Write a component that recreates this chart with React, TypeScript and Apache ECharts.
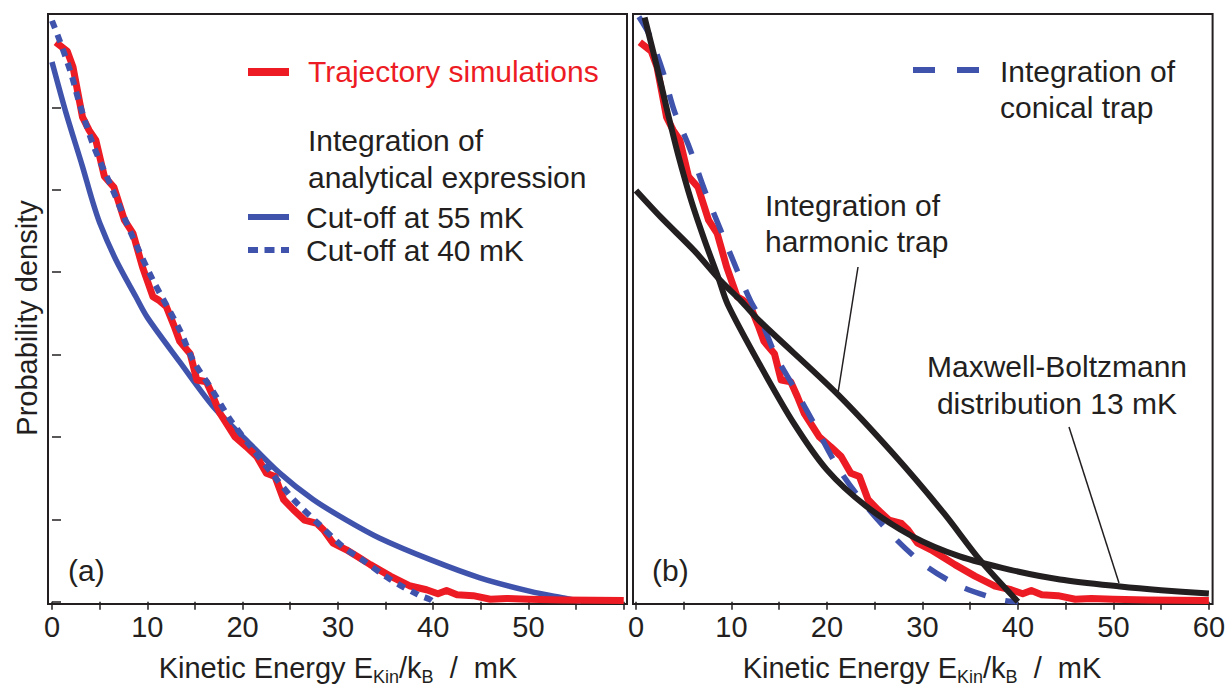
import React, { useEffect, useRef } from "react";
import * as echarts from "echarts";

// ---------- data ----------
const xTickValues = [0, 5, 10, 15, 20, 25, 30, 35, 40, 45, 50, 55, 60];
const xLabelsA = [0, 10, 20, 30, 40, 50];
const xLabelsB = [0, 10, 20, 30, 40, 50, 60];
const yTickValues = [0, 1, 2, 3, 4, 5, 6];

// trajectory simulations (red) – same in both panels
const trajectory: [number, number][] = [
  [0.4, 6.79], [1.6, 6.68], [2.2, 6.49], [3.2, 5.88], [3.9, 5.72], [4.6, 5.6],
  [5.5, 5.16], [6.5, 5.03], [7.6, 4.63], [8.5, 4.47], [9.5, 4.06], [10.6, 3.7],
  [11.2, 3.66], [12.0, 3.58], [12.8, 3.35], [13.4, 3.16], [14.5, 3.01], [15.2, 2.69],
  [16.2, 2.67], [16.9, 2.49], [17.6, 2.29], [19.2, 2.0], [20.4, 1.88], [21.5, 1.76],
  [22.5, 1.56], [23.4, 1.52], [24.3, 1.24], [25.3, 1.12], [26.5, 0.99], [27.8, 0.95],
  [28.5, 0.87], [29.5, 0.71], [30.9, 0.63], [32.3, 0.53], [33.4, 0.45], [35.5, 0.31],
  [37.6, 0.19], [39.3, 0.145], [40.5, 0.097], [41.4, 0.137], [42.5, 0.085], [44.2, 0.073],
  [46.0, 0.03], [47.7, 0.04], [50.0, 0.03], [53.6, 0.02], [60.0, 0.015],
];

// analytical expression, cut-off at 55 mK (blue solid)
const cutoff55: [number, number][] = [
  [0, 6.55], [1.5, 5.92], [3.2, 5.28], [4.2, 4.88], [5.0, 4.6], [6.7, 4.15],
  [8.8, 3.7], [10, 3.45], [13.4, 2.91], [16.9, 2.37], [20.4, 1.96], [23.9, 1.56],
  [27.4, 1.24], [30.9, 0.99], [34.4, 0.77], [39.7, 0.51], [44.9, 0.29], [50.2, 0.125],
  [53.7, 0.045], [55.5, 0.005],
];

// analytical expression, cut-off at 40 mK (blue dotted)
const cutoff40: [number, number][] = [
  [0, 7.05], [0.8, 6.81], [2.0, 6.41], [2.9, 6.04], [4.4, 5.52], [6.4, 4.99],
  [8.3, 4.47], [10.6, 3.9], [13.4, 3.3], [14.8, 2.93], [16.8, 2.57], [18.7, 2.21],
  [21, 1.86], [23.2, 1.54], [25.5, 1.22], [28.1, 0.93], [30.7, 0.65], [32.3, 0.53],
  [35.5, 0.27], [38.4, 0.085], [39.7, 0.025], [40, 0],
];

// integration of conical trap (blue dashed)
const conical: [number, number][] = [
  [0.3, 7.1], [1.4, 6.88], [2.8, 6.44], [4.0, 5.96], [5.6, 5.51], [7.2, 4.99],
  [8.9, 4.5], [10.6, 4.02], [12, 3.65], [13, 3.44], [14.7, 2.97], [16.5, 2.61],
  [18.6, 2.17], [21.3, 1.6], [24.1, 1.16], [27.3, 0.75], [30.4, 0.43], [33.9, 0.19],
  [37.4, 0.045], [39.1, 0.005], [40, 0],
];

// integration of harmonic trap (black)
const harmonic: [number, number][] = [
  [0, 4.99], [2.65, 4.66], [6.1, 4.26], [8.9, 3.89], [11, 3.65], [13, 3.4],
  [21, 2.53], [26.9, 1.8], [32.2, 1.08], [36, 0.51], [40, 0],
];

// Maxwell-Boltzmann distribution 13 mK (black)
const maxwell: [number, number][] = [
  [0.9, 7.09], [2.3, 6.44], [3.35, 5.92], [4.4, 5.43], [5.8, 4.86], [7.2, 4.38],
  [8.6, 3.94], [9.6, 3.61], [13, 2.87], [16.5, 2.17], [20, 1.6], [24.1, 1.16],
  [29, 0.79], [33.9, 0.55], [39.1, 0.39], [44.4, 0.27], [50.7, 0.185], [55, 0.14],
  [60, 0.1],
];

// ---------- styles ----------
const RED = "#ed1c24";
const BLUE = "#3f53ad";
const BLACK = "#231f20";
const FAMILY = '"Liberation Sans", Arial, Helvetica, sans-serif';
const FS = 29;

function xAxisFor(gridIndex: number, min: number, max: number, labels: number[]) {
  return {
    type: "value",
    gridIndex,
    min,
    max,
    axisLine: { show: false },
    splitLine: { show: false },
    axisTick: {
      show: true,
      inside: false,
      length: 8,
      customValues: xTickValues,
      lineStyle: { color: BLACK, width: 1.5 },
    },
    axisLabel: {
      show: true,
      customValues: labels,
      margin: 8,
      color: BLACK,
      fontSize: FS,
      fontFamily: FAMILY,
    },
  };
}

function yAxisFor(gridIndex: number, ticks: boolean) {
  return {
    type: "value",
    gridIndex,
    min: -0.028,
    max: 7.132,
    axisLine: { show: false },
    splitLine: { show: false },
    axisLabel: { show: false },
    axisTick: {
      show: ticks,
      inside: true,
      length: 9,
      customValues: yTickValues,
      lineStyle: { color: BLACK, width: 1.5 },
    },
  };
}

function line(data: [number, number][], idx: number, color: string, width: number, type: any, smooth: any, z: number) {
  return {
    type: "line",
    xAxisIndex: idx,
    yAxisIndex: idx,
    data,
    showSymbol: false,
    symbol: "none",
    smooth,
    z,
    lineStyle: { color, width, type, cap: "butt", join: "round" },
  };
}

function txt(text: string, x: number, y: number, opts: any = {}) {
  return {
    type: "text",
    x,
    y,
    z: 100,
    rotation: opts.rotation || 0,
    style: {
      text,
      fill: opts.fill || BLACK,
      font: `${opts.size || FS}px ${FAMILY}`,
      align: opts.align || "left",
      verticalAlign: "middle",
    },
  };
}

function seg(x1: number, y1: number, x2: number, y2: number, color: string, width: number, dash?: number[]) {
  return {
    type: "line",
    z: 100,
    shape: { x1, y1, x2, y2 },
    style: { stroke: color, lineWidth: width, lineDash: dash || null, lineCap: "butt" },
  };
}

function axisTitle(cx: number, cy: number) {
  return {
    type: "text",
    x: cx,
    y: cy,
    z: 100,
    style: {
      text: "{m|Kinetic Energy E}{s|Kin}{m|/k}{s|B}{m|  /  mK}",
      align: "center",
      verticalAlign: "middle",
      fill: BLACK,
      rich: {
        m: { fontSize: FS, fontFamily: FAMILY, lineHeight: 36, fill: BLACK },
        s: { fontSize: 18, fontFamily: FAMILY, lineHeight: 36, verticalAlign: "bottom", fill: BLACK },
      },
    },
  };
}

export default function App() {
  const ref = useRef<HTMLDivElement>(null);

  useEffect(() => {
    if (!ref.current) return;
    const chart = echarts.init(ref.current, null, { renderer: "svg" });
    const option: any = {
      animation: false,
      backgroundColor: "#ffffff",
      grid: [
        { left: 48, top: 14, width: 579, height: 590, show: true, borderColor: BLACK, borderWidth: 2, backgroundColor: "transparent" },
        { left: 633, top: 14, width: 580, height: 590, show: true, borderColor: BLACK, borderWidth: 2, backgroundColor: "transparent" },
      ],
      xAxis: [
        xAxisFor(0, -0.42, 60.34, xLabelsA),
        xAxisFor(1, -0.314, 60.39, xLabelsB),
      ],
      yAxis: [yAxisFor(0, true), yAxisFor(1, false)],
      series: [
        line(cutoff55, 0, BLUE, 5.5, "solid", 0.3, 2),
        line(trajectory, 0, RED, 7, "solid", false, 3),
        line(cutoff40, 0, BLUE, 6, [8, 7], 0.3, 4),
        line(trajectory, 1, RED, 7, "solid", false, 2),
        line(conical, 1, BLUE, 5.5, [22, 20], 0.3, 3),
        line(harmonic, 1, BLACK, 6, "solid", 0.3, 4),
        line(maxwell, 1, BLACK, 6, "solid", 0.3, 4),
      ],
      graphic: [
        // left panel legend
        seg(248, 72, 289, 72, RED, 8),
        txt("Trajectory simulations", 308, 71, { fill: RED, size: 30 }),
        txt("Integration of", 308, 140, { size: 30 }),
        txt("analytical expression", 308, 177, { size: 30 }),
        seg(248, 217, 289, 217, BLUE, 6),
        txt("Cut-off at 55 mK", 306, 217, { size: 30 }),
        seg(248, 250, 289, 250, BLUE, 6, [10, 6.5]),
        txt("Cut-off at 40 mK", 306, 250, { size: 30 }),
        txt("(a)", 68, 570, { size: 30 }),
        // right panel annotations
        seg(913, 70, 979, 70, BLUE, 6, [22, 22]),
        txt("Integration of", 1000, 71, { size: 30 }),
        txt("conical trap", 1000, 107, { size: 30 }),
        txt("Integration of", 765, 205, { size: 30 }),
        txt("harmonic trap", 765, 241, { size: 30 }),
        seg(858, 267, 838, 393, BLACK, 1.5),
        txt("Maxwell-Boltzmann", 1057, 366, { size: 30, align: "center" }),
        txt("distribution 13 mK", 1057, 403, { size: 30, align: "center" }),
        seg(1069, 427, 1119, 583, BLACK, 1.5),
        txt("(b)", 652, 570, { size: 30 }),
        // axis titles
        txt("Probability density", 27, 318, { size: 29, align: "center", rotation: Math.PI / 2 }),
        axisTitle(338, 668),
        axisTitle(922, 668),
      ],
    };
    chart.setOption(option);
    return () => chart.dispose();
  }, []);

  return (
    <div
      ref={ref}
      style={{ position: "fixed", left: 0, top: 0, width: 1228, height: 686, background: "#fff" }}
    />
  );
}
